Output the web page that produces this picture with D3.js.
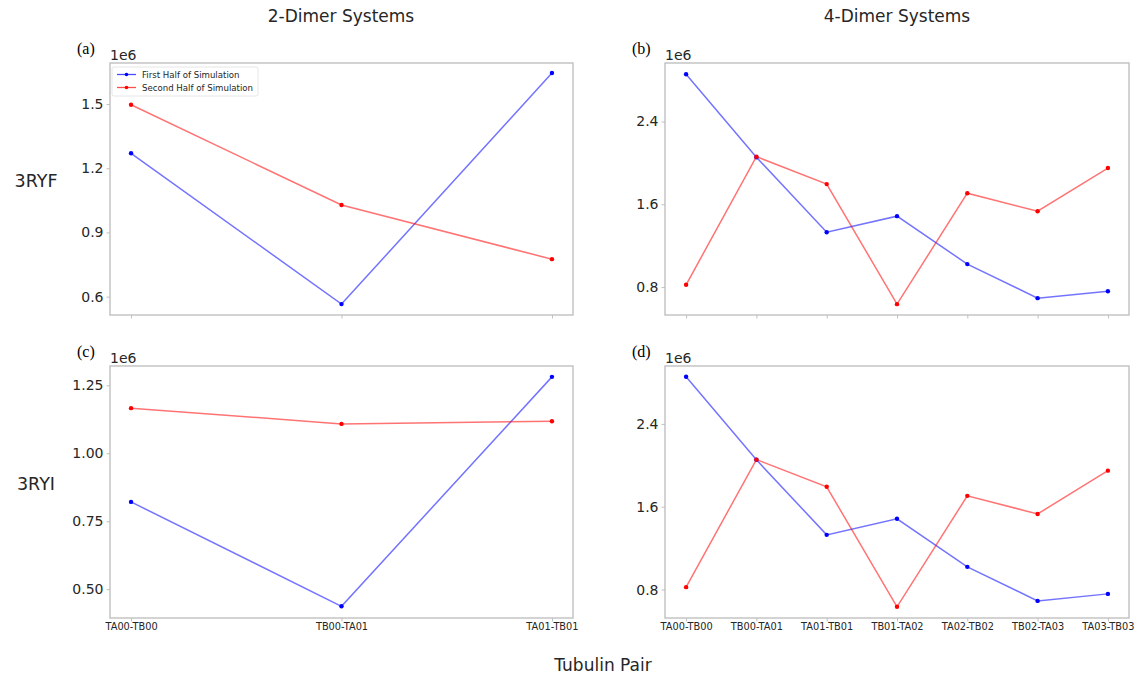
<!DOCTYPE html>
<html><head><meta charset="utf-8">
<script src="https://cdn.jsdelivr.net/npm/d3@7"></script>
<style>body{margin:0;background:#fff}svg{display:block}</style>
</head><body>
<svg id="chart" width="1138" height="677"></svg>
<script>
const pairs2 = ["TA00-TB00","TB00-TA01","TA01-TB01"];
const pairs4 = ["TA00-TB00","TB00-TA01","TA01-TB01","TB01-TA02","TA02-TB02","TB02-TA03","TA03-TB03"];
const ryf2First  = [1.27, 0.565, 1.645];
const ryf2Second = [1.497, 1.028, 0.775];
const ryf4First  = [2.857, 2.055, 1.330, 1.485, 1.022, 0.693, 0.760];
const ryf4Second = [0.822, 2.060, 1.795, 0.635, 1.707, 1.533, 1.950];
const ryi2First  = [0.821, 0.437, 1.281];
const ryi2Second = [1.166, 1.108, 1.118];
const ryi4First  = [2.855, 2.053, 1.328, 1.483, 1.019, 0.690, 0.758];
const ryi4Second = [0.823, 2.055, 1.792, 0.633, 1.705, 1.530, 1.948];
const ticksA = [0.6, 0.9, 1.2, 1.5];
const ticksB = [0.8, 1.6, 2.4];
const ticksC = [0.5, 0.75, 1.0, 1.25];
const seriesNames = ["First Half of Simulation","Second Half of Simulation"];

const svg = d3.select("#chart");
const BLUE = "#0000ff", RED = "#ff0000";
const spine = "#c0c0c0";

const panels = [
  {id:"(a)", cats:pairs2, s:[ryf2First, ryf2Second], ticks:ticksA, fmt:d3.format(".1f"), dom:[0.514,1.692], x0:110, x1:573, y0:63, y1:315, xl:false, legend:true},
  {id:"(b)", cats:pairs4, s:[ryf4First, ryf4Second], ticks:ticksB, fmt:d3.format(".1f"), dom:[0.530,2.965], x0:665, x1:1129, y0:63, y1:315, xl:false},
  {id:"(c)", cats:pairs2, s:[ryi2First, ryi2Second], ticks:ticksC, fmt:d3.format(".2f"), dom:[0.394,1.321], x0:110, x1:573, y0:366, y1:618, xl:true},
  {id:"(d)", cats:pairs4, s:[ryi4First, ryi4Second], ticks:ticksB, fmt:d3.format(".1f"), dom:[0.525,2.959], x0:665, x1:1129, y0:366, y1:618, xl:true}
];

panels.forEach(p => {
  const n = p.cats.length, m = 0.05*(n-1);
  const x = d3.scaleLinear().domain([-m, n-1+m]).range([p.x0, p.x1]);
  const y = d3.scaleLinear().domain(p.dom).range([p.y1, p.y0]);
  const g = svg.append("g");

  const ya = g.append("g").attr("transform",`translate(${p.x0},0)`)
    .call(d3.axisLeft(y).tickValues(p.ticks).tickFormat(p.fmt).tickSize(3.5).tickPadding(3));
  ya.select(".domain").remove();
  ya.selectAll("line").attr("stroke", spine);
  ya.selectAll("text").attr("font-family","DejaVu Sans").attr("font-size","14px").attr("fill","#262626");

  const xa = g.append("g").attr("transform",`translate(0,${p.y1})`)
    .call(d3.axisBottom(x).tickValues(d3.range(n)).tickFormat(i => p.xl ? p.cats[i] : "").tickSize(3.5).tickPadding(1.5));
  xa.select(".domain").remove();
  xa.selectAll("line").attr("stroke", spine);
  xa.selectAll("text").attr("font-family","DejaVu Sans").attr("font-size","9.8px").attr("fill","#262626");

  g.append("rect").attr("x",p.x0).attr("y",p.y0).attr("width",p.x1-p.x0).attr("height",p.y1-p.y0)
    .attr("fill","none").attr("stroke",spine).attr("stroke-width",1.4);

  g.append("text").attr("x",p.x0).attr("y",p.y0-3).text("1e6")
    .attr("font-family","DejaVu Sans").attr("font-size","14px").attr("fill","#262626");
  g.append("text").attr("x",p.x0-33).attr("y",p.y0-9).text(p.id)
    .attr("font-family","Liberation Serif").attr("font-size","16px").attr("fill","#000");

  const line = d3.line().x((d,i)=>x(i)).y(d=>y(d));
  [BLUE, RED].forEach((c, k) => {
    g.append("path").datum(p.s[k]).attr("d", line).attr("fill","none")
      .attr("stroke", c).attr("stroke-opacity",0.55).attr("stroke-width",1.5);
    g.selectAll(null).data(p.s[k]).join("circle")
      .attr("cx",(d,i)=>x(i)).attr("cy",d=>y(d)).attr("r",2.2).attr("fill",c);
  });

  if (p.legend) {
    const lg = g.append("g");
    lg.append("rect").attr("x",p.x0+2).attr("y",p.y0+4).attr("width",146).attr("height",29).attr("rx",2)
      .attr("fill","#fff").attr("fill-opacity",0.8).attr("stroke","#e0e0e0").attr("stroke-width",0.8);
    [BLUE, RED].forEach((c,k) => {
      const yy = p.y0 + 11.5 + k*13;
      lg.append("line").attr("x1",p.x0+7).attr("x2",p.x0+26).attr("y1",yy).attr("y2",yy)
        .attr("stroke",c).attr("stroke-opacity",0.7).attr("stroke-width",1.3);
      lg.append("circle").attr("cx",p.x0+16.5).attr("cy",yy).attr("r",1.8).attr("fill",c);
      lg.append("text").attr("x",p.x0+32).attr("y",yy+3).text(seriesNames[k])
        .attr("font-family","DejaVu Sans").attr("font-size","8.6px").attr("fill","#262626");
    });
  }
});

const big = sel => sel.attr("font-family","DejaVu Sans").attr("font-size","17px").attr("fill","#262626");
svg.append("text").attr("x",341).attr("y",22).attr("text-anchor","middle").text("2-Dimer Systems").call(big);
svg.append("text").attr("x",897).attr("y",22).attr("text-anchor","middle").text("4-Dimer Systems").call(big);
svg.append("text").attr("x",36).attr("y",187).attr("text-anchor","middle").text("3RYF").call(big).attr("font-size","17.5px");
svg.append("text").attr("x",36).attr("y",490).attr("text-anchor","middle").text("3RYI").call(big).attr("font-size","17.5px");
svg.append("text").attr("x",603).attr("y",671).attr("text-anchor","middle").text("Tubulin Pair").call(big);
</script>
</body></html>
